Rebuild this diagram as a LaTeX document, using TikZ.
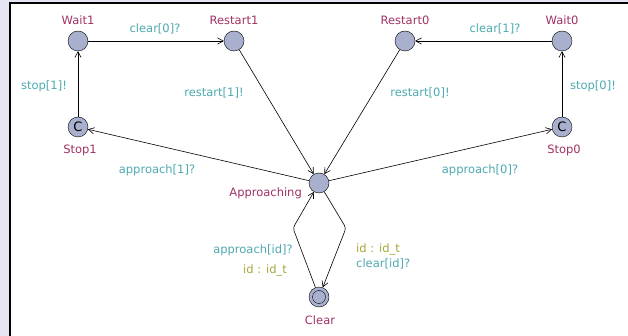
\documentclass[tikz,border=0pt]{standalone}
\usepackage{fontspec}
\setmainfont{DejaVu Sans}
\usetikzlibrary{arrows.meta, positioning}
\definecolor{upbg}{RGB}{228,228,242}
\definecolor{uploc}{RGB}{168,176,206}
\definecolor{upname}{RGB}{160,50,100}
\definecolor{upsync}{RGB}{77,170,176}
\definecolor{upsel}{RGB}{168,168,60}
\newcommand{\upfont}{\fontsize{11.5}{13}\selectfont}

\begin{document}
\begin{tikzpicture}[x=1pt, y=-1pt,
  loc/.style={circle, draw, fill=uploc, minimum size=20pt, inner sep=0pt, font=\fontsize{13}{14}\selectfont},
  locname/.style={text=upname, font=\upfont, inner sep=0pt},
  sync/.style={text=upsync, font=\upfont, inner sep=0pt},
  sel/.style={text=upsel, font=\upfont, inner sep=0pt},
  arr/.style={-{Straight Barb[length=2mm, width=2.2mm]}, line width=0.6pt}
]
\useasboundingbox[fill=upbg] (0,0) rectangle (628,336);
\draw[line width=1.4pt, fill=white] (10,3) rectangle (660,360);

% locations
\node[loc] (wait1) at (78,41) {};
\node[loc] (restart1) at (234,41) {};
\node[loc] (restart0) at (405,41) {};
\node[loc] (wait0) at (562,41) {};
\node[loc] (stop1) at (78,127) {C};
\node[loc] (stop0) at (562,127) {C};
\node[loc] (approaching) at (319,183) {};
\node[loc] (clear) at (319,297) {};
\node[circle, draw, minimum size=13pt, inner sep=0pt] (clearin) at (clear) {};

% location names
\node[locname] (n-wait1) at (78,20) {Wait1};
\node[locname] (n-restart1) at (234,20) {Restart1};
\node[locname] (n-restart0) at (405,20) {Restart0};
\node[locname] (n-wait0) at (562,20) {Wait0};
\node[locname] (n-stop1) at (80,150) {Stop1};
\node[locname] (n-stop0) at (564,150) {Stop0};
\node[locname, anchor=east] (n-approaching) at (302,193) {Approaching};
\node[locname] (n-clear) at (320,320) {Clear};

% bends
\coordinate (bendr) at (346,228);
\coordinate (bendl) at (293,228);

% edges
\draw[arr] (wait1) -- (restart1);
\draw[arr] (wait0) -- (restart0);
\draw[arr] (stop1) -- (wait1);
\draw[arr] (stop0) -- (wait0);
\draw[arr] (restart1) -- (approaching);
\draw[arr] (restart0) -- (approaching);
\draw[arr] (approaching) -- (stop1);
\draw[arr] (approaching) -- (stop0);
\draw[arr, rounded corners=3pt] (approaching) -- (bendr) -- (clear);
\draw[arr, rounded corners=3pt] (clear) -- (bendl) -- (approaching);

% edge labels
\node[sync] (l-clear0) at (155,29) {clear[0]?};
\node[sync] (l-clear1) at (495,29) {clear[1]?};
\node[sync] (l-stop1) at (44,86) {stop[1]!};
\node[sync] (l-stop0) at (593,86) {stop[0]!};
\node[sync] (l-restart1) at (214,93) {restart[1]!};
\node[sync] (l-restart0) at (420,93) {restart[0]!};
\node[sync] (l-approach1) at (157,170) {approach[1]?};
\node[sync] (l-approach0) at (480,170) {approach[0]?};
\node[sync] (l-approachid) at (253,250) {approach[id]?};
\node[sel] (l-selin) at (265,270) {id : id\_t};
\node[sel, anchor=west] (l-selout) at (356,249) {id : id\_t};
\node[sync, anchor=west] (l-clearid) at (356,264) {clear[id]?};
\end{tikzpicture}
\end{document}
